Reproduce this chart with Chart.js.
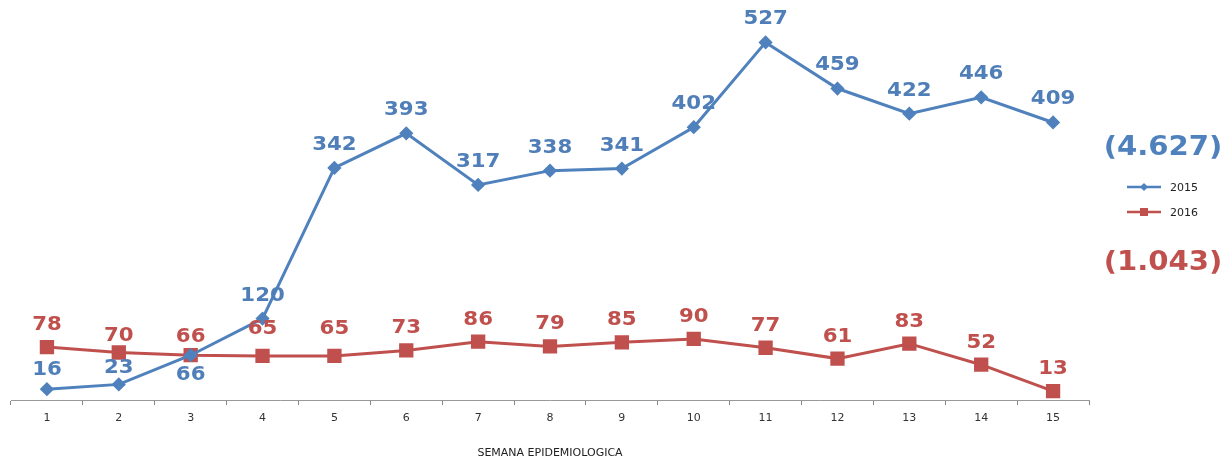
<!DOCTYPE html>
<html><head><meta charset="utf-8">
<script src="https://cdn.jsdelivr.net/npm/chart.js@4/dist/chart.umd.min.js"></script>
<style>html,body{margin:0;padding:0;background:#fff}#wrap{width:1232px;height:458px;position:relative}</style>
</head><body><div id="wrap"><canvas id="c" width="1232" height="458"></canvas></div>
<script>
const weeks = ['1','2','3','4','5','6','7','8','9','10','11','12','13','14','15'];
const values2015 = [16,23,66,120,342,393,317,338,341,402,527,459,422,446,409];
const values2016 = [78,70,66,65,65,73,86,79,85,90,77,61,83,52,13];
const seriesNames = ['2015','2016'];
const totals = ['(4.627)','(1.043)'];
const axisTitle = 'SEMANA EPIDEMIOLOGICA';
const blue = '#4F81BD', red = '#C0504D';

// label placement style (offset from point, px)
const labelStyle2015 = {default:-23, byIndex:{0:-19,1:-16,2:20}};
const labelStyle2016 = {default:-22, byIndex:{1:-16,2:-18,3:-27,4:-27}};

const extras = {
  id:'extras',
  afterDatasetsDraw(chart){
    const ctx = chart.ctx;
    const xs = chart.scales.x, ys = chart.scales.y;
    ctx.save();
    ctx.textAlign='center'; ctx.textBaseline='middle';
    ctx.font = 'bold 19px "DejaVu Sans"';
    const drawLbl=(txt,x,y,col)=>{ctx.save();ctx.translate(x,y);ctx.scale(1.12,1);ctx.fillStyle=col;ctx.fillText(txt,0,0);ctx.restore();};
    const off=(st,i)=> (st.byIndex[i]!==undefined?st.byIndex[i]:st.default);
    values2016.forEach((v,i)=>{drawLbl(String(v), xs.getPixelForValue(i), ys.getPixelForValue(v)+off(labelStyle2016,i), '#C0504D');});
    values2015.forEach((v,i)=>{drawLbl(String(v), xs.getPixelForValue(i), ys.getPixelForValue(v)+off(labelStyle2015,i), '#4F7EB8');});
    // totals
    ctx.font='bold 26px "DejaVu Sans"';
    drawLbl(totals[0],1163,148,blue);
    drawLbl(totals[1],1163,263,red);
    // legend
    const items=[{y:187,c:blue,s:'d'},{y:212,c:red,s:'s'}];
    items.forEach((it,k)=>{
      ctx.strokeStyle=it.c; ctx.lineWidth=2.5;
      ctx.beginPath(); ctx.moveTo(1127,it.y); ctx.lineTo(1161,it.y); ctx.stroke();
      ctx.fillStyle=it.c; ctx.beginPath();
      if(it.s==='d'){ctx.moveTo(1144,it.y-4);ctx.lineTo(1148,it.y);ctx.lineTo(1144,it.y+4);ctx.lineTo(1140,it.y);ctx.closePath();}
      else {ctx.rect(1140,it.y-4,8,8);}
      ctx.fill();
      ctx.fillStyle='#222'; ctx.font='11px "DejaVu Sans"'; ctx.textAlign='left';
      ctx.fillText(seriesNames[k],1170,it.y+1);
      ctx.textAlign='center';
    });
    ctx.restore();
  }
};

new Chart(document.getElementById('c'),{
  type:'line',
  data:{labels:weeks,datasets:[
    {label:seriesNames[0],data:values2015,borderColor:blue,backgroundColor:blue,borderWidth:3,pointStyle:'rectRot',pointRadius:5,pointHoverRadius:5,tension:0},
    {label:seriesNames[1],data:values2016,borderColor:red,backgroundColor:red,borderWidth:3,pointStyle:'rect',pointRadius:8,pointHoverRadius:8,tension:0}
  ]},
  options:{
    responsive:false,animation:false,
    layout:{padding:{left:11,right:143,top:20,bottom:0}},
    plugins:{legend:{display:false},tooltip:{enabled:false}},
    scales:{
      x:{offset:true,
        grid:{display:true,drawOnChartArea:false,offset:true,tickLength:5,color:'#888'},
        border:{color:'#999',width:1},
        ticks:{color:'#333',font:{family:'DejaVu Sans',size:11},padding:7,maxRotation:0},
        title:{display:true,text:axisTitle,color:'#222',font:{family:'DejaVu Sans',size:11},padding:{top:19,bottom:-2}},
        afterFit(s){s.height=58;}
      },
      y:{display:false,min:0,max:560}
    }
  },
  plugins:[extras]
});
</script></body></html>
